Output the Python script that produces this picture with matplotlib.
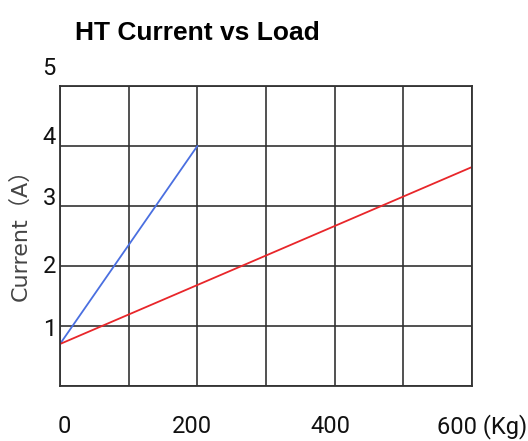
import matplotlib
matplotlib.use("Agg")
import matplotlib.pyplot as plt

# data
load_blue = [0, 200]
current_blue = [0.7, 4.0]
load_red = [0, 600]
current_red = [0.7, 3.65]

x_ticks = [0, 200, 400, 600]
x_tick_labels = ["0", "200", "400", "600 (Kg)"]
y_ticks = [1, 2, 3, 4, 5]
y_tick_labels = ["1", "2", "3", "4", "5"]

# the labels in the original sit slightly off their grid lines
x_label_shift = [-3, -37, -34.5, -50.5]
y_label_shift = [-0.05, 0.0, 0.13, 0.15, 0.30]

tick_font = ["Roboto", "DejaVu Sans"]

fig = plt.figure(figsize=(5.28, 4.41), dpi=100)
ax = fig.add_axes([0.1136, 0.1247, 0.780, 0.680])

ax.plot(load_blue, current_blue, color="#4a6fe0", lw=1.3)
ax.plot(load_red, current_red, color="#e8262a", lw=1.3)

ax.set_xlim(0, 600)
ax.set_ylim(0, 5)
ax.set_xticks(range(0, 601, 100))
ax.set_yticks(range(0, 6))
ax.tick_params(length=0, labelbottom=False, labelleft=False)
ax.grid(True, color="#333333", lw=1.2)
for s in ax.spines.values():
    s.set_color("#333333")
    s.set_linewidth(1.3)

for v, lab, dx in zip(x_ticks, x_tick_labels, x_label_shift):
    ax.text(v + dx, -0.68, lab, ha="left", va="center", fontsize=17,
            family=tick_font, color="#111111", clip_on=False)
for v, lab, dy in zip(y_ticks, y_tick_labels, y_label_shift):
    ax.text(-5.8, v + dy, lab, ha="right", va="center", fontsize=17,
            family=tick_font, color="#111111", clip_on=False)

fig.text(20 / 528, 1 - 229 / 441, "Current\uff08A\uff09", rotation=90,
         ha="center", va="center", fontsize=16, color="#444444",
         family=["DejaVu Sans", "Noto Sans CJK SC"])

fig.text(197.5 / 528, 1 - 33 / 441, "HT Current vs Load", ha="center",
         va="center", fontsize=19, fontweight="bold", family="Liberation Sans")

fig.savefig("out.png", dpi=100)
